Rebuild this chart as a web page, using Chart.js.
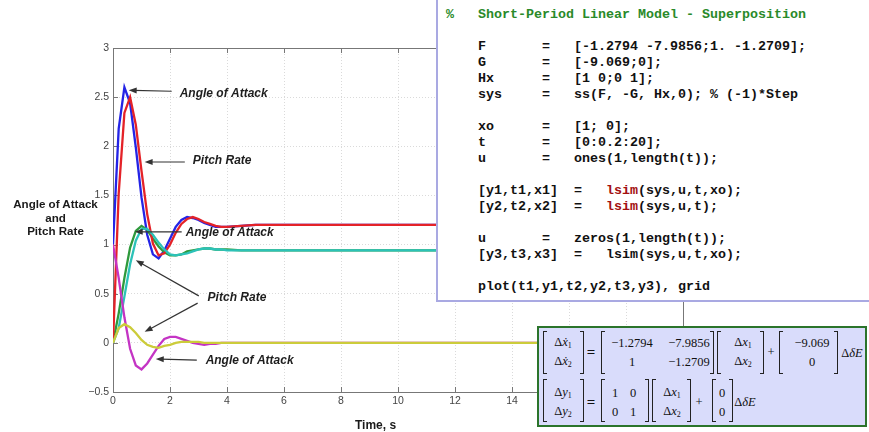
<!DOCTYPE html>
<html>
<head>
<meta charset="utf-8">
<script src="https://cdn.jsdelivr.net/npm/chart.js@4"></script>
<style>
  body { margin: 0; background: #fff; }
  #wrap { position: relative; width: 869px; height: 432px; overflow: hidden; background: #fff; }
  .ttl { position: absolute; font: bold 11.6px "Liberation Sans", Arial, sans-serif; color: #1a1a1a; }
  #code { position: absolute; left: 436px; top: -4px; width: 445px; height: 306px; box-sizing: border-box;
          border: 2px solid #a9a9e2; background: #fff; }
  #code pre { position: absolute; left: 8px; top: 9px; margin: 0;
              font: bold 13.33px "Courier New", "Liberation Mono", monospace; line-height: 16px; color: #111; }
  .cm { color: #2a8a2a; }
  .kw { color: #a31010; }
  #eq { position: absolute; left: 537px; top: 326px; width: 330px; height: 101px; box-sizing: border-box;
        border: 2px solid #2b742b; background: #d9dcfb; }
  .m { position: absolute; font: 12.5px "Liberation Serif", "Times New Roman", serif; color: #111;
       transform: translate(-50%, -50%); white-space: nowrap; line-height: 1; }
  .m sub { font-size: 8px; vertical-align: -2px; }
  .bl, .br { position: absolute; width: 4px; border: 1.2px solid #222; box-sizing: border-box; }
  .bl { border-right: none; }
  .br { border-left: none; }
</style>
</head>
<body>
<div id="wrap">
  <canvas id="plot" width="869" height="432"></canvas>
  <div class="ttl" style="left:0;top:197px;width:111px;text-align:center;line-height:13.5px">Angle of Attack<br>and<br>Pitch Rate</div>
  <div class="ttl" style="left:355px;top:418px;font-size:12px">Time, s</div>
  <div id="code"></div>
  <div id="eq"></div>
</div>
<script>
// time samples (s)
const tVals = [0, 0.2, 0.4, 0.6, 0.8, 1.0, 1.2, 1.4, 1.6, 1.8, 2.0, 2.2, 2.4, 2.6, 2.8, 3.0, 3.2, 3.4, 3.6, 3.8, 4.0,
  4.5, 5, 6, 8, 10, 12, 14, 16, 18, 20];

// y1 = lsim(sys,u,t,xo)
const y1Pitch = [1.00, 2.18, 2.60, 2.44, 1.99, 1.48, 1.10, 0.90, 0.86, 0.94, 1.06, 1.18, 1.25, 1.28, 1.27, 1.25, 1.22, 1.20, 1.18, 1.18, 1.18,
  1.19, 1.20, 1.20, 1.20, 1.20, 1.20, 1.20, 1.20, 1.20, 1.20];
const y1Alpha = [0.00, 0.30, 0.66, 0.97, 1.14, 1.19, 1.15, 1.06, 0.98, 0.92, 0.89, 0.89, 0.90, 0.93, 0.94, 0.95, 0.96, 0.96, 0.95, 0.95, 0.95,
  0.94, 0.94, 0.94, 0.94, 0.94, 0.94, 0.94, 0.94, 0.94, 0.94];
// y2 = lsim(sys,u,t)
const y2Pitch = [0.00, 1.52, 2.34, 2.50, 2.22, 1.75, 1.31, 1.01, 0.89, 0.91, 1.00, 1.12, 1.21, 1.26, 1.28, 1.26, 1.23, 1.21, 1.19, 1.18, 1.18,
  1.19, 1.20, 1.20, 1.20, 1.20, 1.20, 1.20, 1.20, 1.20, 1.20];
const y2Alpha = [0.00, 0.15, 0.47, 0.80, 1.04, 1.16, 1.16, 1.10, 1.02, 0.95, 0.90, 0.89, 0.90, 0.91, 0.93, 0.95, 0.96, 0.96, 0.95, 0.95, 0.94,
  0.94, 0.94, 0.94, 0.94, 0.94, 0.94, 0.94, 0.94, 0.94, 0.94];
// y3 = lsim(sys,0,t,xo)
const y3Pitch = [1.00, 0.66, 0.26, -0.06, -0.23, -0.27, -0.21, -0.12, -0.03, 0.04, 0.06, 0.06, 0.04, 0.02, 0.00, -0.01, -0.02, -0.01, -0.01, 0.00, 0.00,
  0, 0, 0, 0, 0, 0, 0, 0, 0, 0];
const y3Alpha = [0.00, 0.15, 0.19, 0.16, 0.10, 0.03, -0.02, -0.04, -0.05, -0.03, -0.02, 0.00, 0.01, 0.01, 0.01, 0.01, 0.00, 0.00, 0.00, 0.00, 0.00,
  0, 0, 0, 0, 0, 0, 0, 0, 0, 0];

const seriesNames = ["y1(:,1)", "y1(:,2)", "y2(:,1)", "y2(:,2)", "y3(:,1)", "y3(:,2)"];
const seriesColors = ["#2424e6", "#2e9a3c", "#e42228", "#2cc2b8", "#c434c4", "#cccc3a"];

// annotation labels (data coords of left/middle of text) and arrows [fromT, fromY, toT, toY]
const noteText = ["Angle of Attack", "Pitch Rate", "Angle of Attack", "Pitch Rate", "Angle of Attack"];
const noteT = [2.34, 2.80, 2.55, 3.32, 3.25];
const noteY = [2.54, 1.85, 1.116, 0.455, -0.186];
const arrows = [
  [2.06, 2.56, 0.55, 2.57],
  [2.52, 1.84, 1.11, 1.84],
  [2.41, 1.13, 0.76, 1.13],
  [3.01, 0.478, 0.80, 0.841],
  [2.97, 0.404, 1.11, 0.112],
  [2.94, -0.176, 1.50, -0.163]
];

const allSeries = [y1Pitch, y1Alpha, y2Pitch, y2Alpha, y3Pitch, y3Alpha];

const frame = {
  id: "frame",
  beforeDatasetsDraw(chart) {
    const { ctx, chartArea: a, scales } = chart;
    ctx.save();
    ctx.strokeStyle = "#777";
    ctx.lineWidth = 1;
    ctx.strokeRect(Math.round(a.left) + 0.5, Math.round(a.top) + 0.5,
      Math.round(a.right - a.left), Math.round(a.bottom - a.top));
    // inward ticks, MATLAB style
    ctx.beginPath();
    scales.x.ticks.forEach((tk) => {
      const px = Math.round(scales.x.getPixelForValue(tk.value)) + 0.5;
      ctx.moveTo(px, a.bottom); ctx.lineTo(px, a.bottom - 5);
      ctx.moveTo(px, a.top); ctx.lineTo(px, a.top + 5);
    });
    scales.y.ticks.forEach((tk) => {
      const py = Math.round(scales.y.getPixelForValue(tk.value)) + 0.5;
      ctx.moveTo(a.left, py); ctx.lineTo(a.left + 5, py);
      ctx.moveTo(a.right, py); ctx.lineTo(a.right - 5, py);
    });
    ctx.stroke();
    ctx.restore();
  },
  afterDatasetsDraw(chart) {
    const { ctx, scales } = chart;
    const x = scales.x, y = scales.y;
    ctx.save();
    ctx.strokeStyle = "#333";
    ctx.fillStyle = "#333";
    ctx.lineWidth = 1.2;
    arrows.forEach((ar) => {
      const x0 = x.getPixelForValue(ar[0]), y0 = y.getPixelForValue(ar[1]);
      const x1 = x.getPixelForValue(ar[2]), y1 = y.getPixelForValue(ar[3]);
      const ang = Math.atan2(y1 - y0, x1 - x0);
      ctx.beginPath();
      ctx.moveTo(x0, y0);
      ctx.lineTo(x1 - 5 * Math.cos(ang), y1 - 5 * Math.sin(ang));
      ctx.stroke();
      ctx.beginPath();
      ctx.moveTo(x1, y1);
      ctx.lineTo(x1 - 8 * Math.cos(ang) + 3 * Math.sin(ang), y1 - 8 * Math.sin(ang) - 3 * Math.cos(ang));
      ctx.lineTo(x1 - 8 * Math.cos(ang) - 3 * Math.sin(ang), y1 - 8 * Math.sin(ang) + 3 * Math.cos(ang));
      ctx.closePath();
      ctx.fill();
    });
    ctx.fillStyle = "#1e1e1e";
    ctx.font = 'bold italic 12px "Liberation Sans", Arial, sans-serif';
    ctx.textBaseline = "middle";
    noteText.forEach((s, i) => {
      ctx.fillText(s, x.getPixelForValue(noteT[i]), y.getPixelForValue(noteY[i]));
    });
    ctx.restore();
  }
};

new Chart(document.getElementById("plot"), {
  type: "line",
  data: {
    datasets: allSeries.map((arr, i) => ({
      label: seriesNames[i],
      data: tVals.map((t, k) => ({ x: t, y: arr[k] })),
      borderColor: seriesColors[i],
      borderWidth: 2.3,
      pointRadius: 0,
      tension: 0,
      fill: false,
      order: 6 - i
    }))
  },
  options: {
    responsive: false,
    animation: false,
    events: [],
    layout: { padding: { left: 0, right: 186, top: 48, bottom: 0 } },
    plugins: { legend: { display: false }, tooltip: { enabled: false } },
    scales: {
      x: {
        type: "linear", min: 0, max: 20,
        ticks: { stepSize: 2, padding: 3, color: "#444", font: { size: 10.5, family: '"Liberation Sans", Arial' } },
        grid: { color: "#dadada", drawTicks: false },
        border: { display: false, dash: [1, 2] },
        afterFit: (s) => { s.height = 40; }
      },
      y: {
        min: -0.5, max: 3,
        ticks: {
          stepSize: 0.5, padding: 4, color: "#444", font: { size: 10.5, family: '"Liberation Sans", Arial' },
          callback: (v) => (v < 0 ? "\u2212" + (-v) : String(v))
        },
        grid: { color: "#dadada", drawTicks: false },
        border: { display: false, dash: [1, 2] },
        afterFit: (s) => { s.width = 113; }
      }
    }
  },
  plugins: [frame]
});

// MATLAB listing
const pad = (s, n) => s + " ".repeat(Math.max(0, n - s.length));
const codeLines = [
  '<span class="cm">%   Short-Period Linear Model - Superposition</span>',
  "",
  "    " + pad("F", 8) + "=   [-1.2794 -7.9856;1. -1.2709];",
  "    " + pad("G", 8) + "=   [-9.069;0];",
  "    " + pad("Hx", 8) + "=   [1 0;0 1];",
  "    " + pad("sys", 8) + "=   ss(F, -G, Hx,0); % (-1)*Step",
  "",
  "    " + pad("xo", 8) + "=   [1; 0];",
  "    " + pad("t", 8) + "=   [0:0.2:20];",
  "    " + pad("u", 8) + "=   ones(1,length(t));",
  "",
  '    [y1,t1,x1]  =   <span class="kw">lsim</span>(sys,u,t,xo);',
  '    [y2,t2,x2]  =   <span class="kw">lsim</span>(sys,u,t);',
  "",
  "    " + pad("u", 8) + "=   zeros(1,length(t));",
  "    [y3,t3,x3]  =   lsim(sys,u,t,xo);",
  "",
  "    plot(t1,y1,t2,y2,t3,y3), grid"
];
document.getElementById("code").innerHTML = "<pre>" + codeLines.join("\n") + "</pre>";

// state-space equations
const eq = document.getElementById("eq");
const ox = 539, oy = 328;
function put(html, cx, cy) {
  const d = document.createElement("div");
  d.className = "m";
  d.style.left = (cx - ox) + "px";
  d.style.top = (cy - oy) + "px";
  d.innerHTML = html;
  eq.appendChild(d);
}
function brk(xl, xr, top, h) {
  const l = document.createElement("div");
  l.className = "bl";
  l.style.cssText = "left:" + (xl - ox) + "px;top:" + (top - oy) + "px;height:" + h + "px";
  const r = document.createElement("div");
  r.className = "br";
  r.style.cssText = "left:" + (xr - 4 - ox) + "px;top:" + (top - oy) + "px;height:" + h + "px";
  eq.appendChild(l);
  eq.appendChild(r);
}
const dx = (n) => "&Delta;<i>x&#775;</i><sub>" + n + "</sub>";
const vx = (n) => "&Delta;<i>x</i><sub>" + n + "</sub>";
const vy = (n) => "&Delta;<i>y</i><sub>" + n + "</sub>";
const dE = "&Delta;<i>&delta;E</i>";
const eqSign = '<b style="font-size:15px">=</b>';

// row 1
brk(543, 584, 331, 43);
put(dx(1), 563, 343); put(dx(2), 563, 362);
put(eqSign, 591, 352);
brk(601, 714, 331, 43);
put("&minus;1.2794", 632, 343); put("&minus;7.9856", 689, 343);
put("1", 632, 362); put("&minus;1.2709", 689, 362);
brk(717, 764, 331, 43);
put(vx(1), 743, 343); put(vx(2), 743, 362);
put("+", 771, 352);
brk(779, 838, 331, 43);
put("&minus;9.069", 812, 343); put("0", 812, 362);
put(dE, 852, 353);
// row 2
brk(543, 584, 379, 43);
put(vy(1), 563, 393); put(vy(2), 563, 412);
put(eqSign, 591, 402);
brk(601, 649, 379, 43);
put("1", 615, 393); put("0", 633, 393);
put("0", 615, 412); put("1", 633, 412);
brk(652, 691, 379, 43);
put(vx(1), 672, 393); put(vx(2), 672, 412);
put("+", 699, 402);
brk(712, 733, 379, 43);
put("0", 722, 393); put("0", 722, 412);
put(dE, 745, 402);
</script>
</body>
</html>
